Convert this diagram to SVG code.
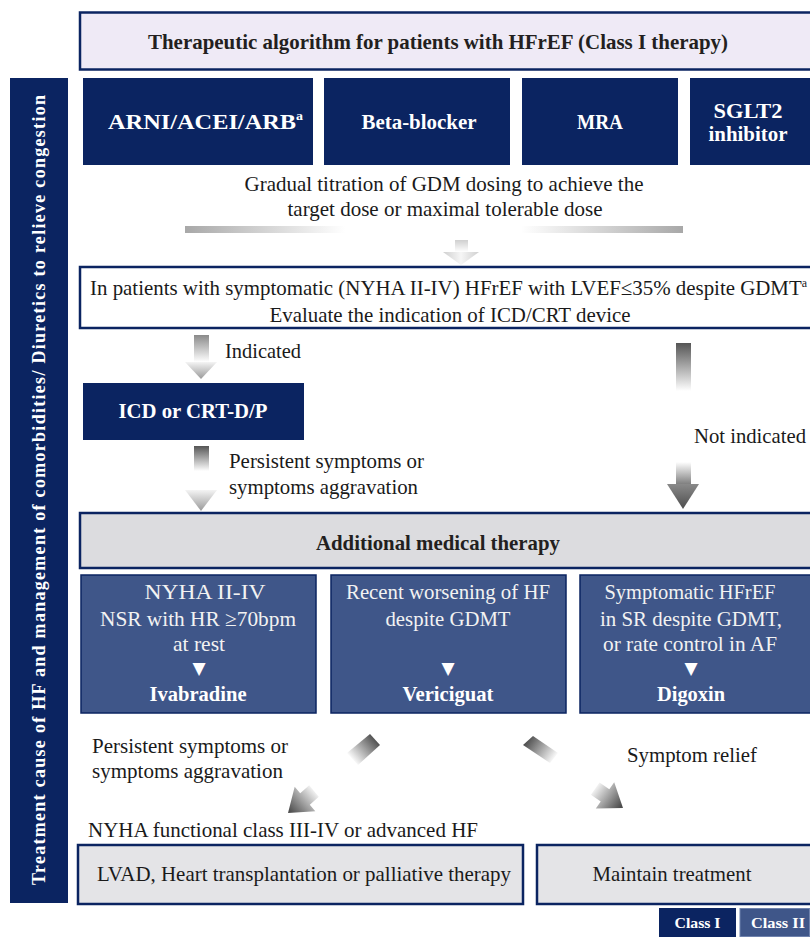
<svg xmlns="http://www.w3.org/2000/svg" width="810" height="937" viewBox="0 0 810 937">
<defs>
<style>
.t{font-family:"Liberation Serif","Times New Roman","DejaVu Serif",serif;font-size:21px;fill:#1a1a1a}
.b{font-family:"Liberation Serif","Times New Roman","DejaVu Serif",serif;font-size:21px;font-weight:bold}
.sup{font-size:12px}
.leg{font-size:14px}
.side{font-size:18px}
.w{fill:#ffffff}
.lw{fill:#f2f2f2}
.navy{fill:#0b2461}
.mid{fill:#3f5689;stroke:#0b2461;stroke-width:1.5}
.gbox{fill:#e4e4e7;stroke:#0b2461;stroke-width:2.5}
.tri{font-family:"DejaVu Sans",sans-serif;font-size:17px;fill:#ffffff}
</style>
<linearGradient id="barL" x1="0" y1="0" x2="1" y2="0"><stop offset="0" stop-color="#a8a8a8"/><stop offset="1" stop-color="#ffffff"/></linearGradient>
<linearGradient id="barR" x1="0" y1="0" x2="1" y2="0"><stop offset="0" stop-color="#ffffff"/><stop offset="1" stop-color="#a8a8a8"/></linearGradient>
<linearGradient id="vDarkFade" x1="0" y1="0" x2="0" y2="1"><stop offset="0" stop-color="#555555"/><stop offset="1" stop-color="#ffffff"/></linearGradient>
<linearGradient id="vMidFade" x1="0" y1="0" x2="0" y2="1"><stop offset="0" stop-color="#8a8a8a"/><stop offset="1" stop-color="#ffffff"/></linearGradient>
<linearGradient id="vLightFade" x1="0" y1="0" x2="0" y2="1"><stop offset="0" stop-color="#cfcfcf"/><stop offset="1" stop-color="#ffffff"/></linearGradient>
<linearGradient id="vHeadMid" x1="0" y1="0" x2="0" y2="1"><stop offset="0" stop-color="#f4f4f4"/><stop offset="1" stop-color="#999999"/></linearGradient>
<linearGradient id="vHeadDark" x1="0" y1="0" x2="0" y2="1"><stop offset="0" stop-color="#8a8a8a"/><stop offset="1" stop-color="#4d4d4d"/></linearGradient>
<linearGradient id="vUpFade" x1="0" y1="0" x2="0" y2="1"><stop offset="0" stop-color="#ffffff"/><stop offset="1" stop-color="#7a7a7a"/></linearGradient>
<linearGradient id="vHeadLight" x1="0" y1="0" x2="1" y2="0"><stop offset="0" stop-color="#cfcfcf"/><stop offset="0.5" stop-color="#f6f6f6"/><stop offset="1" stop-color="#cfcfcf"/></linearGradient>
<linearGradient id="dL1" gradientUnits="userSpaceOnUse" x1="376" y1="739" x2="352" y2="760"><stop offset="0" stop-color="#4d4d4d"/><stop offset="1" stop-color="#ffffff"/></linearGradient>
<linearGradient id="dL2" gradientUnits="userSpaceOnUse" x1="316" y1="789" x2="290" y2="812"><stop offset="0" stop-color="#ffffff"/><stop offset="1" stop-color="#4d4d4d"/></linearGradient>
<linearGradient id="dR1" gradientUnits="userSpaceOnUse" x1="527" y1="740" x2="555" y2="759"><stop offset="0" stop-color="#4d4d4d"/><stop offset="1" stop-color="#ffffff"/></linearGradient>
<linearGradient id="dR2" gradientUnits="userSpaceOnUse" x1="594" y1="786" x2="621" y2="806"><stop offset="0" stop-color="#ffffff"/><stop offset="1" stop-color="#4d4d4d"/></linearGradient>
</defs>
<rect width="810" height="937" fill="#ffffff"/>

<g id="title">
<rect x="80" y="12.5" width="740" height="57" fill="#efeaf6" stroke="#0b2461" stroke-width="2.5"/>
<text class="b" x="438" y="49" text-anchor="middle" fill="#231f20" textLength="580" lengthAdjust="spacingAndGlyphs">Therapeutic algorithm for patients with HFrEF (Class I therapy)</text>
</g>

<g id="sidebar">
<rect x="10" y="78" width="58" height="825" class="navy"/>
<text class="b w side" transform="translate(45,885) rotate(-90)" textLength="790" lengthAdjust="spacing">Treatment cause of HF and management of comorbidities/ Diuretics to relieve congestion</text>
</g>

<g id="arni">
<rect x="83" y="78" width="230" height="87" class="navy"/>
<text class="b w" x="108" y="129" textLength="195" lengthAdjust="spacingAndGlyphs">ARNI/ACEI/ARB<tspan class="sup" dy="-9">a</tspan></text>
</g>
<g id="betablocker">
<rect x="324" y="78" width="186" height="87" class="navy"/>
<text class="b w" x="419" y="129" text-anchor="middle" textLength="115" lengthAdjust="spacingAndGlyphs">Beta-blocker</text>
</g>
<g id="mra">
<rect x="522" y="78" width="156" height="87" class="navy"/>
<text class="b w" x="600" y="129" text-anchor="middle" textLength="46" lengthAdjust="spacingAndGlyphs">MRA</text>
</g>
<g id="sglt2">
<rect x="690" y="78" width="130" height="87" class="navy"/>
<text class="b w" x="748" y="118" text-anchor="middle" textLength="69" lengthAdjust="spacingAndGlyphs">SGLT2</text>
<text class="b w" x="748" y="141" text-anchor="middle" textLength="79" lengthAdjust="spacingAndGlyphs">inhibitor</text>
</g>

<g id="titration">
<text class="t" x="444" y="191" text-anchor="middle" textLength="399" lengthAdjust="spacingAndGlyphs">Gradual titration of GDM dosing to achieve the</text>
<text class="t" x="445" y="216" text-anchor="middle" textLength="315" lengthAdjust="spacingAndGlyphs">target dose or maximal tolerable dose</text>
<rect x="185" y="226" width="160" height="7" fill="url(#barL)"/>
<rect x="521" y="226" width="162" height="7" fill="url(#barR)"/>
</g>

<g id="evaluate">
<rect x="80" y="267" width="740" height="61" fill="#ffffff" stroke="#0b2461" stroke-width="2.5"/>
<text class="t" x="90" y="295" textLength="717" lengthAdjust="spacingAndGlyphs">In patients with symptomatic (NYHA II-IV) HFrEF with LVEF≤35% despite GDMT<tspan class="sup" dy="-8">a</tspan></text>
<text class="t" x="450" y="322" text-anchor="middle" textLength="361" lengthAdjust="spacingAndGlyphs">Evaluate the indication of ICD/CRT device</text>
</g>

<g id="icd">
<rect x="83" y="383" width="221" height="57" class="navy"/>
<text class="b w" x="193" y="418" text-anchor="middle" textLength="149" lengthAdjust="spacingAndGlyphs">ICD or CRT-D/P</text>
</g>

<g id="additional">
<rect x="80" y="513" width="740" height="55" fill="#dcdcdf" stroke="#0b2461" stroke-width="2.5"/>
<text class="b" x="438" y="550" text-anchor="middle" fill="#231f20" textLength="244" lengthAdjust="spacingAndGlyphs">Additional medical therapy</text>
</g>

<g id="ivabradine">
<rect x="81" y="575" width="235" height="138" class="mid"/>
<text class="t lw" x="205" y="599" text-anchor="middle" textLength="121" lengthAdjust="spacingAndGlyphs">NYHA II-IV</text>
<text class="t lw" x="198" y="626" text-anchor="middle" textLength="196" lengthAdjust="spacingAndGlyphs">NSR with HR ≥70bpm</text>
<text class="t lw" x="199" y="651" text-anchor="middle" textLength="52" lengthAdjust="spacingAndGlyphs">at rest</text>
<text class="tri" x="199" y="674" text-anchor="middle">▼</text>
<text class="b w" x="198" y="701" text-anchor="middle" textLength="97" lengthAdjust="spacingAndGlyphs">Ivabradine</text>
</g>
<g id="vericiguat">
<rect x="331" y="575" width="235" height="138" class="mid"/>
<text class="t lw" x="448" y="599" text-anchor="middle" textLength="204" lengthAdjust="spacingAndGlyphs">Recent worsening of HF</text>
<text class="t lw" x="448" y="626" text-anchor="middle" textLength="125" lengthAdjust="spacingAndGlyphs">despite GDMT</text>
<text class="tri" x="448" y="674" text-anchor="middle">▼</text>
<text class="b w" x="448" y="701" text-anchor="middle" textLength="91" lengthAdjust="spacingAndGlyphs">Vericiguat</text>
</g>
<g id="digoxin">
<rect x="580" y="575" width="240" height="138" class="mid"/>
<text class="t lw" x="690" y="599" text-anchor="middle" textLength="171" lengthAdjust="spacingAndGlyphs">Symptomatic HFrEF</text>
<text class="t lw" x="691" y="626" text-anchor="middle" textLength="182" lengthAdjust="spacingAndGlyphs">in SR despite GDMT,</text>
<text class="t lw" x="690" y="651" text-anchor="middle" textLength="174" lengthAdjust="spacingAndGlyphs">or rate control in AF</text>
<text class="tri" x="691" y="674" text-anchor="middle">▼</text>
<text class="b w" x="691" y="701" text-anchor="middle" textLength="68" lengthAdjust="spacingAndGlyphs">Digoxin</text>
</g>

<g id="lvad">
<rect x="78" y="845" width="445" height="59" class="gbox"/>
<text class="t" x="304" y="881" text-anchor="middle" textLength="414" lengthAdjust="spacingAndGlyphs">LVAD, Heart transplantation or palliative therapy</text>
</g>
<g id="maintain">
<rect x="537" y="845" width="283" height="59" class="gbox"/>
<text class="t" x="672" y="881" text-anchor="middle" textLength="159" lengthAdjust="spacingAndGlyphs">Maintain treatment</text>
</g>

<g id="legend">
<rect x="659" y="908" width="77" height="29" class="navy"/>
<text class="b w leg" x="697.5" y="928" text-anchor="middle" textLength="46" lengthAdjust="spacingAndGlyphs">Class I</text>
<rect x="740" y="908.5" width="69.5" height="28" fill="#3f5689" stroke="#6f82ad" stroke-width="1"/>
<text class="b w leg" x="778" y="928" text-anchor="middle" textLength="54" lengthAdjust="spacingAndGlyphs">Class II</text>
</g>

<g id="connectors">
<rect x="455" y="240" width="13" height="12" fill="url(#vLightFade)"/>
<polygon points="443,252 479,252 461,265" fill="url(#vHeadLight)"/>

<rect x="194" y="335" width="15" height="27" fill="url(#vMidFade)"/>
<polygon points="185,362 217,362 201,379" fill="url(#vHeadMid)"/>
<text class="t" x="225" y="358" textLength="76" lengthAdjust="spacingAndGlyphs">Indicated</text>

<rect x="194" y="446" width="15" height="25" fill="url(#vDarkFade)"/>
<polygon points="185,490 217,490 201,511" fill="url(#vHeadMid)"/>
<text class="t" x="229" y="468" textLength="195" lengthAdjust="spacingAndGlyphs">Persistent symptoms or</text>
<text class="t" x="229" y="494" textLength="189" lengthAdjust="spacingAndGlyphs">symptoms aggravation</text>

<rect x="676" y="343" width="15" height="48" fill="url(#vDarkFade)"/>
<rect x="676" y="462" width="15" height="23" fill="url(#vUpFade)"/>
<polygon points="667,484 699,484 683,509" fill="url(#vHeadDark)"/>
<text class="t" x="694" y="443" textLength="112" lengthAdjust="spacingAndGlyphs">Not indicated</text>

<polygon points="347,753 370,734 380,745 358,765" fill="url(#dL1)"/>
<polygon points="309.2,785.3 318.8,796.7 309.8,804.7 315.3,811.3 288,813 294.7,786.7 300.2,793.3" fill="url(#dL2)"/>
<polygon points="523,745 533,736 558,753 550,763" fill="url(#dR1)"/>
<polygon points="599.5,782.4 590.9,794.7 600.7,801.6 595.8,808.5 623,808 614.2,782.3 609.3,789.3" fill="url(#dR2)"/>
<text class="t" x="92" y="753" textLength="196" lengthAdjust="spacingAndGlyphs">Persistent symptoms or</text>
<text class="t" x="92" y="778" textLength="191" lengthAdjust="spacingAndGlyphs">symptoms aggravation</text>
<text class="t" x="627" y="762" textLength="130" lengthAdjust="spacingAndGlyphs">Symptom relief</text>
<text class="t" x="88" y="837" textLength="390" lengthAdjust="spacingAndGlyphs">NYHA functional class III-IV or advanced HF</text>
</g>
</svg>
